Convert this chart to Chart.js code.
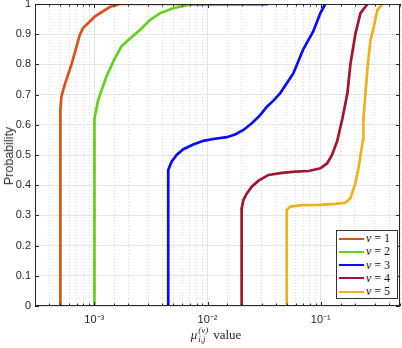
<!DOCTYPE html>
<html>
<head>
<meta charset="utf-8">
<script src="https://cdn.jsdelivr.net/npm/chart.js@4.4.0/dist/chart.umd.min.js"></script>
<style>
  html, body { margin: 0; padding: 0; background: #fff; }
  #wrap { position: relative; width: 402px; height: 348px; }
  #ytitle {
    position: absolute; left: 9px; top: 156px;
    transform: translate(-50%, -50%) rotate(-90deg);
    font: 12.5px "Liberation Sans", Arial, sans-serif; color: #333; white-space: nowrap;
  }
  #xtitle {
    position: absolute; left: 216px; top: 326px; transform: translateX(-50%);
    font: 13px "Liberation Serif", serif; color: #262626; white-space: nowrap;
    display: flex; align-items: center;
  }
  #xtitle .ss { display: inline-flex; flex-direction: column; font-size: 9px; line-height: 9px; margin-left: 1px; margin-right: 5px; }
  #legend {
    position: absolute; left: 336px; top: 230px; width: 62px; height: 69px;
    background: #fff; border: 1px solid #333; box-sizing: border-box;
    font: 12px "Liberation Serif", serif; color: #111;
  }
  .row { position: absolute; left: 2px; height: 13px; display: flex; align-items: center; }
  .sw { width: 25px; height: 2px; margin-right: 2px; }
</style>
</head>
<body>
<div id="wrap">
  <canvas id="cdf"></canvas>
  <div id="ytitle">Probability</div>
  <div id="xtitle"><i>μ</i><span class="ss"><i>(v)</i><i>i,j</i></span>value</div>
  <div id="legend"></div>
</div>
<script>
const seriesNames = ['1', '2', '3', '4', '5'];
const seriesColors = ['#D95319', '#62D01C', '#0A0AFF', '#A2142F', '#EDB120'];

const x1 = [5.0e-4, 5.0e-4, 5.05e-4, 5.13e-4, 5.48e-4, 6.28e-4, 7.44e-4, 7.96e-4, 1.01e-3, 1.37e-3, 1.68e-3, 0.0337];
const p1 = [0,      0.60,   0.65,    0.693,   0.732,   0.798,   0.897,   0.92,    0.958,   0.99,    1.0,     1.0];

const x2 = [1.0e-3, 1.0e-3, 1.01e-3, 1.08e-3, 1.28e-3, 1.52e-3, 1.74e-3, 2.06e-3, 2.53e-3, 3.10e-3, 3.80e-3, 4.95e-3, 6.72e-3, 7.5e-3, 0.0343];
const p2 = [0,      0.58,   0.62,    0.68,    0.76,    0.82,    0.86,    0.885,   0.914,   0.947,   0.969,   0.986,   0.997,   0.998,  0.998];

const x3 = [4.5e-3, 4.5e-3, 4.82e-3, 5.33e-3, 6.11e-3, 7.48e-3, 9.18e-3, 0.01125, 0.01479, 0.0175, 0.02075, 0.0246, 0.02918, 0.03343, 0.0382, 0.04386, 0.05715, 0.07, 0.0859, 0.0991, 0.1096];
const p3 = [0,      0.45,   0.478,   0.50,    0.519,   0.535,   0.547,   0.553,   0.559,   0.568,  0.583,   0.605,  0.632,   0.66,    0.68,   0.705,   0.77,    0.85, 0.91,   0.97,   1.0];

const x4 = [0.02, 0.02,  0.02075, 0.02223, 0.0246, 0.02818, 0.03451, 0.04541, 0.05943, 0.07798, 0.0991, 0.1135, 0.1256, 0.139, 0.1549, 0.1718, 0.1824, 0.2017, 0.2239, 0.2584];
const p4 = [0,    0.323, 0.351,   0.373,   0.395,  0.415,   0.434,   0.441,   0.445,   0.447,   0.456,  0.472,  0.50,   0.544, 0.62,   0.705,  0.80,   0.90,   0.97,   1.0];

const x5 = [0.05, 0.05,  0.0537, 0.0682, 0.0957, 0.1343, 0.1648, 0.1824, 0.2017, 0.2163, 0.228, 0.2359, 0.2377, 0.2584, 0.2742, 0.2917, 0.3162, 0.3499];
const p5 = [0,    0.318, 0.329,  0.334,  0.335,  0.338,  0.342,  0.357,  0.406,  0.461,  0.517, 0.55,   0.62,   0.79,   0.88,   0.92,   0.98,   1.0];

const xSeries = [x1, x2, x3, x4, x5];
const pSeries = [p1, p2, p3, p4, p5];

const xMin = 3e-4, xMax = 0.5;
const superDigits = { '-': '⁻', '0': '⁰', '1': '¹', '2': '²', '3': '³', '4': '⁴', '5': '⁵', '6': '⁶', '7': '⁷', '8': '⁸', '9': '⁹' };

function isPow10(v) {
  const l = Math.log10(v);
  return Math.abs(l - Math.round(l)) < 1e-6;
}

/* ── Box + inward tick marks (MATLAB style) ─────────────────── */
const boxPlugin = {
  id: 'box',
  afterDatasetsDraw(chart) {
    const { ctx, chartArea: a, scales } = chart;
    ctx.save();
    ctx.strokeStyle = '#262626';
    ctx.lineWidth = 1;
    ctx.beginPath();
    scales.x.ticks.forEach(t => {
      const px = Math.round(scales.x.getPixelForValue(t.value)) + 0.5;
      const len = isPow10(t.value) ? 4 : 2.5;
      ctx.moveTo(px, a.bottom); ctx.lineTo(px, a.bottom - len);
      ctx.moveTo(px, a.top);    ctx.lineTo(px, a.top + len);
    });
    scales.y.ticks.forEach(t => {
      const py = Math.round(scales.y.getPixelForValue(t.value)) + 0.5;
      ctx.moveTo(a.left, py);  ctx.lineTo(a.left + 4, py);
      ctx.moveTo(a.right, py); ctx.lineTo(a.right - 4, py);
    });
    ctx.stroke();
    ctx.strokeRect(Math.round(a.left) + 0.5, Math.round(a.top) + 0.5,
                   Math.round(a.right - a.left) - 1, Math.round(a.bottom - a.top) - 1);
    ctx.restore();
  }
};

new Chart(document.getElementById('cdf'), {
  type: 'line',
  data: {
    datasets: seriesNames.map((n, i) => ({
      label: 'v = ' + n,
      data: xSeries[i].map((x, j) => ({ x: x, y: pSeries[i][j] })),
      borderColor: seriesColors[i],
      backgroundColor: seriesColors[i],
      borderWidth: 2.7,
      pointRadius: 0,
      tension: 0,
      fill: false,
      order: i
    }))
  },
  options: {
    responsive: true,
    maintainAspectRatio: false,
    animation: false,
    layout: { padding: { top: 4, right: 2, left: 0, bottom: 0 } },
    plugins: { legend: { display: false }, tooltip: { enabled: false } },
    scales: {
      x: {
        type: 'logarithmic',
        min: xMin,
        max: xMax,
        afterFit: s => { s.height = 42; s.paddingLeft = 0; s.paddingRight = 0; },
        border: {
          display: false,
          dash: ctx => (ctx.tick && isPow10(ctx.tick.value)) ? [] : [1, 2]
        },
        grid: {
          drawTicks: false,
          color: ctx => (ctx.tick && isPow10(ctx.tick.value)) ? '#e3e3e3' : '#d9d9d9',
          lineWidth: 1
        },
        ticks: {
          autoSkip: false,
          maxRotation: 0,
          padding: 7,
          color: '#262626',
          font: { family: '"Liberation Sans", Arial, sans-serif', size: 11 },
          callback: v => {
            if (!isPow10(v)) return '';
            const e = String(Math.round(Math.log10(v)));
            return '10' + e.split('').map(c => superDigits[c]).join('');
          }
        }
      },
      y: {
        min: 0,
        max: 1,
        afterFit: s => { s.width = 35; s.paddingTop = 0; s.paddingBottom = 0; },
        border: { display: false },
        grid: { drawTicks: false, color: '#e6e6e6', lineWidth: 1 },
        ticks: {
          stepSize: 0.1,
          padding: 4,
          color: '#262626',
          font: { family: '"Liberation Sans", Arial, sans-serif', size: 11 },
          callback: v => String(Number(v.toFixed(1)))
        }
      }
    }
  },
  plugins: [boxPlugin]
});

/* ── Legend (inside the axes, bottom right) ─────────────────── */
document.getElementById('legend').innerHTML = seriesNames.map((n, i) => `
  <div class="row" style="top:${1 + i * 13.3}px">
    <span class="sw" style="background:${seriesColors[i]}"></span>
    <span><i>v</i> = ${n}</span>
  </div>`).join('');
</script>
</body>
</html>
